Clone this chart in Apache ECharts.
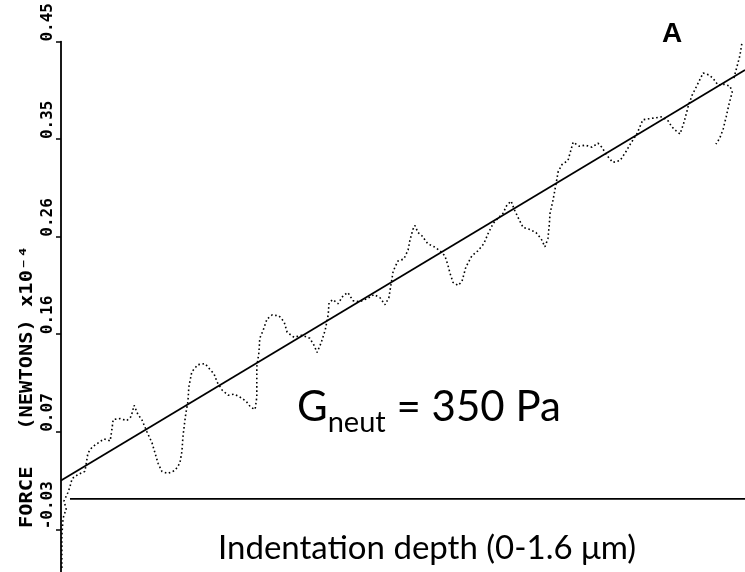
<!DOCTYPE html>
<html>
<head>
<meta charset="utf-8">
<script src="https://cdn.jsdelivr.net/npm/echarts@6/dist/echarts.min.js"></script>
<style>
html,body{margin:0;padding:0;background:#fff;}
#chart{width:745px;height:572px;}
</style>
</head>
<body>
<div id="chart"></div>
<script>
// Indentation depth (µm) and force (x10^-4 N) of the measured trace
const traceDepth = [0.002,0.002,0.002,0.005,0.012,0.007,0.016,0.021,0.026,0.040,0.056,
 0.063,0.073,0.087,0.101,0.115,0.119,0.122,0.138,0.154,0.164,0.171,0.180,0.189,0.201,0.213,0.220,0.227,0.236,0.250,0.267,0.278,0.283,0.285,0.288,0.292,0.297,
 0.299,0.306,0.320,0.337,0.349,0.358,0.365,0.377,0.391,0.405,0.419,0.433,0.444,0.454,0.458,0.458,0.458,0.463,0.465,0.473,
 0.482,0.494,0.510,0.522,0.529,0.545,0.564,0.582,0.592,0.599,0.608,0.618,0.625,0.627,0.636,0.648,0.660,0.671,0.683,0.699,0.716,0.732,0.746,0.758,0.767,
 0.772,0.777,0.788,0.802,0.812,0.816,0.823,0.828,0.835,0.844,0.858,0.873,0.887,0.898,0.905,0.910,0.917,0.929,0.938,0.947,0.961,0.975,0.989,0.999,
 1.011,1.022,1.034,1.043,1.053,1.060,1.069,1.081,1.097,1.111,1.123,1.132,1.139,1.142,1.144,1.151,1.158,1.163,1.172,1.186,
 1.198,1.212,1.226,1.242,1.256,1.265,1.277,1.291,1.308,1.322,1.333,1.347,1.361,1.375,1.392,1.406,1.420,1.429,1.439,1.448,
 1.457,1.467,1.476,1.488,1.502,1.516,1.525,1.537,1.551,1.565,1.570,1.563,1.556,1.549,1.541,1.532,
 1.532,
 1.574,1.581,1.588,1.593];
const traceForce = [-0.068,-0.050,-0.036,-0.019,-0.010,-0.002,0.006,0.012,0.020,0.024,0.027,
 0.045,0.051,0.055,0.059,0.057,0.068,0.078,0.079,0.077,0.081,0.092,0.083,0.078,0.066,0.055,0.045,0.035,0.027,0.025,0.028,0.035,0.047,0.060,0.071,0.084,0.096,
 0.110,0.125,0.132,0.133,0.127,0.123,0.115,0.107,0.102,0.103,0.100,0.096,0.090,0.088,0.100,0.115,0.130,0.144,0.158,0.166,
 0.177,0.181,0.180,0.174,0.164,0.159,0.161,0.158,0.151,0.144,0.153,0.166,0.181,0.193,0.196,0.192,0.200,0.203,0.195,0.194,0.197,0.201,0.198,0.191,0.198,
 0.211,0.224,0.234,0.236,0.245,0.254,0.265,0.269,0.262,0.259,0.251,0.248,0.244,0.239,0.230,0.222,0.213,0.210,0.214,0.228,0.239,0.244,0.251,0.261,
 0.271,0.276,0.281,0.289,0.293,0.285,0.277,0.267,0.265,0.262,0.256,0.248,0.256,0.269,0.281,0.294,0.310,0.322,0.329,0.333,
 0.351,0.347,0.348,0.346,0.350,0.346,0.338,0.331,0.333,0.342,0.350,0.359,0.373,0.374,0.375,0.376,0.372,0.366,0.362,0.359,
 0.370,0.386,0.397,0.407,0.419,0.417,0.414,0.407,0.408,0.406,0.400,0.389,0.376,0.364,0.355,0.349,
 null,
 0.414,0.425,0.436,0.449];

// Linear fit through the trace
const fitDepth = [0, 1.6];
const fitForce = [0.018, 0.422];

// Zero-force baseline
const baseDepth = [0.021, 1.6];
const baseForce = [0, 0];

// Y axis ticks and their printed labels
const yTickValues = [-0.03, 0.066, 0.162, 0.258, 0.354, 0.45];
const yTickLabels = ['-0.03', '0.07', '0.16', '0.26', '0.35', '0.45'];

const yAxisName = 'FORCE   (NEWTONS) x10\u207B\u2074';
const panelLabel = 'A';
const modulusText = {main: 'G', sub: 'neut', rest: ' = 350 Pa'};
const xAxisTitle = 'Indentation depth (0-1.6 \u03BCm)';

const traceData = traceDepth.map((d, i) => traceForce[i] === null ? [d, '-'] : [d, traceForce[i]]);
const fitData = fitDepth.map((d, i) => [d, fitForce[i]]);
const baseData = baseDepth.map((d, i) => [d, baseForce[i]]);

const chart = echarts.init(document.getElementById('chart'), null, {renderer: 'canvas'});
chart.setOption({
  animation: false,
  backgroundColor: '#ffffff',
  grid: {left: 61, right: 0, top: 36, bottom: 0, containLabel: false},
  xAxis: {
    type: 'value', min: 0, max: 1.6,
    axisLine: {show: false},
    axisTick: {show: false}, axisLabel: {show: false}, splitLine: {show: false}
  },
  yAxis: {
    type: 'value', min: -0.072, max: 0.45,
    axisLine: {show: true, onZero: false, lineStyle: {color: '#000', width: 1.8}},
    axisTick: {show: true, customValues: yTickValues, length: 5, lineStyle: {color: '#000', width: 1.5}},
    axisLabel: {
      show: true, customValues: yTickValues, rotate: 90, align: 'left', verticalAlign: 'bottom', margin: 5,
      fontFamily: 'DejaVu Sans Mono', fontSize: 16, fontWeight: 'bold', color: '#000',
      formatter: function (v) {
        let best = 0;
        for (let i = 1; i < yTickValues.length; i++) {
          if (Math.abs(yTickValues[i] - v) < Math.abs(yTickValues[best] - v)) best = i;
        }
        return yTickLabels[best];
      }
    },
    splitLine: {show: false}
  },
  series: [
    {
      type: 'line', data: baseData, showSymbol: false, symbol: 'none',
      lineStyle: {color: '#000', width: 1.6}, z: 1
    },
    {
      type: 'line', data: traceData, showSymbol: false, symbol: 'none', connectNulls: false,
      lineStyle: {color: '#000', width: 1.6, type: [1.6, 2.6]}, z: 2
    },
    {
      type: 'line', data: fitData, showSymbol: false, symbol: 'none',
      lineStyle: {color: '#000', width: 1.8}, z: 3
    }
  ],
  graphic: [
    {
      type: 'text', x: 28, y: 528, rotation: Math.PI / 2, scaleX: 1.2, scaleY: 1,
      style: {text: yAxisName, fontFamily: 'DejaVu Sans Mono', fontWeight: 'bold', fontSize: 17, fill: '#000', align: 'left', verticalAlign: 'middle'}
    },
    {
      type: 'text', x: 672, y: 34,
      style: {text: panelLabel, fontFamily: 'Liberation Sans', fontWeight: 'bold', fontSize: 28, fill: '#000', align: 'center', verticalAlign: 'middle'}
    },
    {
      type: 'text', x: 297, y: 412,
      style: {
        text: '{g|' + modulusText.main + '}{s|' + modulusText.sub + '}{g|' + modulusText.rest + '}',
        align: 'left', verticalAlign: 'middle', fill: '#000',
        rich: {
          g: {fontFamily: 'Lato', fontSize: 42, fill: '#000', verticalAlign: 'bottom', lineHeight: 50, padding: [0, 0, 9, 0]},
          s: {fontFamily: 'Lato', fontSize: 29, fill: '#000', verticalAlign: 'bottom', lineHeight: 35}
        }
      }
    },
    {
      type: 'text', x: 218, y: 548,
      style: {text: xAxisTitle, fontFamily: 'Lato', fontSize: 33, fill: '#000', align: 'left', verticalAlign: 'middle'}
    }
  ]
});
</script>
</body>
</html>
